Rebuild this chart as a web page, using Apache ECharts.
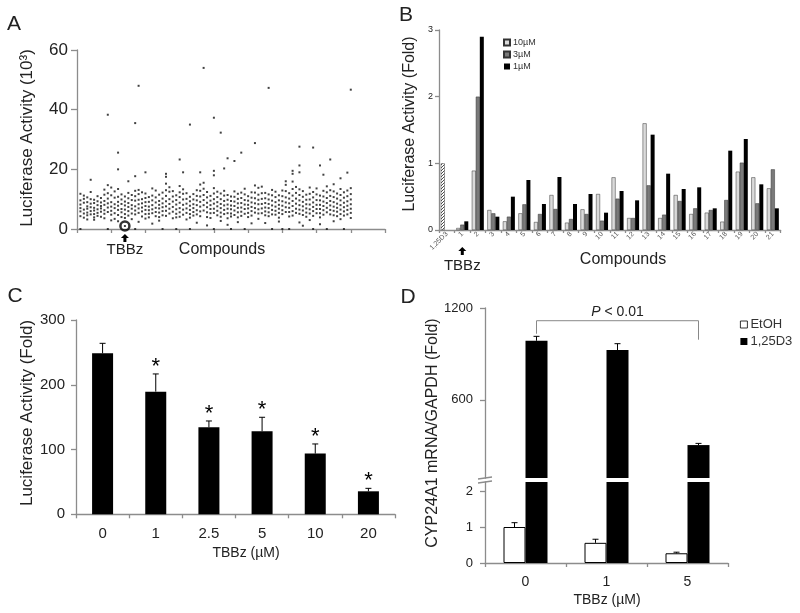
<!DOCTYPE html>
<html>
<head>
<meta charset="utf-8">
<script src="https://cdn.jsdelivr.net/npm/echarts@6/dist/echarts.min.js"></script>
<style>
html, body { margin: 0; padding: 0; background: #fff; }
#main { width: 800px; height: 613px; }
</style>
</head>
<body>
<div id="main"></div>
<script>
// ---- panel A: screen, readings per plate column (10^3 units)
var screenCols = [
  [11.8, 9.6, 8.2, 7.0, 5.9, 4.3, 0], [11.2, 10.1, 8.8, 6.5, 5.2, 3.8], [10.6, 9.0, 7.6, 6.8, 5.5, 4.6, 3.2],
  [12.4, 10.0, 8.5, 7.3, 6.0, 4.9], [9.8, 8.7, 7.1, 6.2, 5.0, 3.9, 3.1], [11.0, 9.3, 8.0, 6.6, 5.4, 4.4],
  [10.4, 8.9, 7.7, 6.9, 5.8, 4.1], [13.2, 11.5, 9.4, 8.1, 6.3, 5.1, 3.6], [14.7, 12.0, 10.2, 8.6, 7.2, 5.7, 0],
  [13.9, 11.3, 9.0, 7.5, 6.1, 4.8, 2.9], [12.6, 10.5, 8.3, 7.0, 5.3, 3.4], [13.4, 10.8, 9.1, 7.8, 6.4, 4.7, 2.6],
  [11.6, 9.9, 8.4, 6.7, 5.6, 4.0], [10.9, 9.2, 7.9, 6.5, 5.0, 3.7, 1.0], [12.1, 10.3, 8.7, 7.4, 6.0, 4.5],
  [11.4, 9.7, 8.0, 6.8, 5.2, 3.3], [12.8, 11.0, 9.5, 7.6, 6.2, 4.9, 0], [13.1, 11.7, 9.8, 8.3, 6.9, 5.4, 2.4],
  [12.3, 10.0, 8.6, 7.2, 5.9, 4.2], [11.9, 10.4, 9.0, 7.7, 6.4, 5.0, 3.5], [10.7, 9.1, 7.5, 6.3, 5.1, 3.9],
  [13.6, 11.2, 9.6, 8.0, 6.6, 5.3, 1.8], [12.9, 10.6, 8.9, 7.1, 5.7, 4.3], [11.5, 9.4, 8.1, 6.9, 5.5, 4.0, 2.8],
  [12.2, 10.2, 8.6, 7.3, 6.0, 4.6, 0], [15.2, 13.0, 11.1, 9.3, 7.6, 6.1, 4.4], [14.0, 12.5, 10.0, 8.4, 6.8, 5.2],
  [12.7, 10.9, 9.2, 7.4, 5.8, 3.6], [11.3, 9.7, 8.2, 6.6, 5.1, 3.9, 0], [14.4, 12.3, 10.7, 8.8, 7.0, 5.6, 4.1],
  [13.3, 11.8, 9.9, 8.1, 6.5, 4.8], [12.0, 10.1, 8.5, 6.9, 5.4, 3.2], [10.8, 9.3, 7.8, 6.4, 5.0, 3.8, 0],
  [11.7, 9.9, 8.3, 7.0, 5.7, 4.5], [13.0, 11.1, 9.6, 8.0, 6.3, 4.9, 2.1], [14.9, 12.8, 10.9, 9.1, 7.5, 5.9, 4.3],
  [15.5, 13.5, 11.4, 9.7, 8.0, 6.2], [12.4, 10.6, 8.8, 7.3, 5.6, 4.0, 1.2], [11.1, 9.5, 8.0, 6.7, 5.3, 3.7],
  [13.7, 11.9, 10.0, 8.5, 6.8, 5.4, 0], [12.5, 10.7, 9.0, 7.6, 6.1, 4.6], [11.9, 10.0, 8.4, 7.0, 5.5, 4.1, 2.7],
  [12.8, 11.2, 9.4, 7.9, 6.4, 5.0], [11.4, 9.8, 8.2, 6.8, 5.3, 3.6, 1.4], [10.9, 9.4, 7.9, 6.6, 5.2, 4.2, 0],
  [12.6, 10.8, 9.2, 7.7, 6.2, 4.7], [11.8, 10.1, 8.6, 7.1, 5.6, 3.9, 2.3], [12.2, 10.4, 8.7, 7.2, 5.8, 4.4],
  [13.5, 11.6, 9.7, 8.2, 6.7, 5.1, 0], [11.0, 9.5, 8.1, 6.9, 5.4, 4.0], [12.3, 10.5, 8.9, 7.4, 6.0, 4.5, 1.9],
  [14.6, 12.2, 10.3, 8.6, 7.0, 5.5], [13.8, 11.5, 9.8, 8.3, 6.6, 5.2, 3.4], [14.2, 12.0, 10.1, 8.4, 6.9, 5.3],
  [12.1, 10.3, 8.7, 7.2, 5.9, 4.6, 2.0], [11.6, 9.9, 8.4, 7.0, 5.6, 4.3], [13.1, 11.3, 9.5, 7.9, 6.4, 4.9, 0],
  [12.5, 10.7, 9.0, 7.5, 6.1, 4.8], [11.3, 9.6, 8.1, 6.8, 5.4, 3.8, 2.5], [12.9, 11.0, 9.3, 7.8, 6.3, 5.0, 0],
  [14.8, 12.7, 10.6, 8.9, 7.3, 5.7], [12.0, 10.2, 8.6, 7.1, 5.7, 4.2, 0], [15.9, 13.4, 11.2, 9.4, 7.7, 6.0, 4.5],
  [14.1, 12.1, 10.2, 8.5, 6.8, 5.4], [13.3, 11.4, 9.6, 8.0, 6.5, 5.1, 2.2], [12.7, 10.8, 9.1, 7.6, 6.2, 4.7, 1.1],
  [11.5, 9.8, 8.3, 6.9, 5.5, 4.1], [13.9, 11.8, 9.9, 8.2, 6.6, 5.2, 3.0], [12.4, 10.6, 8.9, 7.4, 6.0, 4.4, 0],
  [13.6, 11.6, 9.7, 8.1, 6.7, 5.3], [11.2, 9.6, 8.1, 6.7, 5.3, 3.9, 1.6], [12.8, 10.9, 9.2, 7.7, 6.3, 4.8],
  [14.3, 12.3, 10.4, 8.7, 7.1, 5.6, 0], [13.0, 11.1, 9.4, 7.9, 6.4, 4.9], [12.6, 10.7, 9.0, 7.5, 6.1, 4.6, 2.6],
  [11.9, 10.2, 8.5, 7.1, 5.8, 4.3], [13.4, 11.4, 9.6, 8.0, 6.5, 5.0, 3.3], [12.3, 10.5, 8.8, 7.3, 5.9, 4.5, 0],
  [12.9, 11.0, 9.3, 7.8, 6.4, 4.9], [13.7, 11.7, 9.9, 8.3, 6.8, 5.4, 3.7]
];
// [column, reading] for the higher hits
var screenHigh = [
  [4, 16.5], [9, 38.3], [12, 25.6], [12, 20], [18, 48], [17, 35.5], [17, 17.7], [15, 16], [20, 19],
  [37, 54], [40, 37.3], [40, 19.5], [40, 18], [42, 32.3], [33, 35], [30, 23.3], [31, 19], [26, 18.5],
  [26, 17.5], [36, 19], [43, 20.3], [44, 23.7], [46, 22.8], [48, 25.6], [52, 28.8], [56, 47.3], [65, 27.6],
  [65, 21.3], [65, 19], [69, 27.3], [71, 21.3], [74, 23.3], [80, 46.7], [79, 18.9], [63, 19.5], [63, 18.5],
  [61, 16], [72, 18.2], [75, 15], [77, 17]
];
var tbbzPoint = [14, 1.0];

// ---- panel B
var compounds = ['1,25D3', '1', '2', '3', '4', '5', '6', '7', '8', '9', '10', '11', '12', '13', '14',
  '15', '16', '17', '18', '19', '20', '21'];
var ctrlFold = 1.0;
var b10 = [0.03, 0.89, 0.30, 0.13, 0.25, 0.12, 0.525, 0.11, 0.31, 0.54, 0.79, 0.18, 1.60, 0.18, 0.525, 0.24, 0.26, 0.125, 0.875, 0.79, 0.625];
var b3 = [0.08, 2.00, 0.25, 0.20, 0.385, 0.24, 0.315, 0.165, 0.24, 0.14, 0.47, 0.18, 0.67, 0.23, 0.435, 0.325, 0.30, 0.45, 1.01, 0.40, 0.91];
var b1 = [0.13, 2.90, 0.20, 0.50, 0.75, 0.39, 0.795, 0.39, 0.54, 0.26, 0.585, 0.445, 1.43, 0.845, 0.615, 0.64, 0.325, 1.19, 1.365, 0.685, 0.325];

// ---- panel C
var doses = ['0', '1', '2.5', '5', '10', '20'];
var cMean = [248.6, 189.4, 134.3, 128.2, 93.7, 35.5];
var cErr = [15.4, 27.3, 9.8, 21.6, 14.9, 4.6];
var cStar = [0, 1, 1, 1, 1, 1];

// ---- panel D
var dDoses = ['0', '1', '5'];
var etoh = [1.0, 0.56, 0.27];
var etohErr = [0.12, 0.10, 0.03];
var d3 = [986, 925, 305];
var d3Err = [29, 42, 11];
var bracketY = [1032, 1117, 993]; // left end, top, right end

var FONT = 'Liberation Sans, Arial, sans-serif';
var AX = '#8c8c8c';
var TXT = '#222';

var chart = echarts.init(document.getElementById('main'));

// hatch for the 1,25D3 control bar
var hatch = document.createElement('canvas');
hatch.width = 3; hatch.height = 3;
var hc = hatch.getContext('2d');
hc.fillStyle = '#fff'; hc.fillRect(0, 0, 3, 3);
hc.strokeStyle = '#222'; hc.lineWidth = 0.8;
hc.beginPath();
hc.moveTo(-1, 4); hc.lineTo(4, -1);
hc.moveTo(-1, 1); hc.lineTo(1, -1);
hc.moveTo(2, 4); hc.lineTo(4, 2);
hc.stroke();

var screenData = [];
screenCols.forEach(function (col, i) {
  col.forEach(function (v) { screenData.push([i + 1, v]); });
});
screenData = screenData.concat(screenHigh);

function plain(v) { return String(v); }

function valAxis(grid, min, max, interval, fs, margin, tick) {
  return {
    type: 'value', gridIndex: grid, min: min, max: max, interval: interval,
    splitLine: { show: false },
    axisLine: { show: true, lineStyle: { color: AX, width: 1.3 } },
    axisTick: { show: true, length: tick, lineStyle: { color: AX, width: 1.3 } },
    axisLabel: { fontFamily: FONT, fontSize: fs, color: TXT, margin: margin, formatter: plain }
  };
}
function catAxis(grid, data, fs, margin) {
  return {
    type: 'category', gridIndex: grid, data: data,
    axisLine: { show: true, lineStyle: { color: AX, width: 1.3 } },
    axisTick: { show: true, length: 4, lineStyle: { color: AX, width: 1.3 } },
    axisLabel: { fontFamily: FONT, fontSize: fs, color: TXT, margin: margin, interval: 0 }
  };
}

// error bars drawn over bars
function errRender(means, errs, offset, stars) {
  return function (params, api) {
    var i = api.value(0);
    var top = api.coord([i, means[i] + errs[i]]);
    var base = api.coord([i, means[i]]);
    var x = top[0] + offset;
    var kids = [
      { type: 'line', shape: { x1: x, y1: base[1], x2: x, y2: top[1] }, style: { stroke: '#000', lineWidth: 1 } },
      { type: 'line', shape: { x1: x - 3, y1: top[1], x2: x + 3, y2: top[1] }, style: { stroke: '#000', lineWidth: 1 } }
    ];
    if (stars && stars[i]) {
      kids.push({ type: 'text', x: x, y: top[1] - 7,
        style: { text: '*', font: '22px ' + FONT, fill: '#000', align: 'center', verticalAlign: 'middle' } });
    }
    return { type: 'group', children: kids };
  };
}
function idxData(arr) { return arr.map(function (v, i) { return [i, v]; }); }

var option = {
  animation: false,
  backgroundColor: '#fff',
  textStyle: { fontFamily: FONT },
  grid: [
    { left: 77, top: 50, width: 308, height: 179 },
    { left: 439, top: 30, width: 341.6, height: 200 },
    { left: 76, top: 320, width: 319, height: 194.3 },
    { left: 485, top: 308, width: 243, height: 170 },
    { left: 485, top: 482, width: 243, height: 81 }
  ],
  legend: [
    { data: ['10µM', '3µM', '1µM'], orient: 'vertical', left: 503, top: 38, padding: 0, icon: 'rect',
      itemWidth: 6, itemHeight: 6, itemGap: 3, selectedMode: false,
      textStyle: { fontFamily: FONT, fontSize: 9, color: '#333', padding: [0, 0, 0, -2] } },
    { data: ['EtOH', '1,25D3'], orient: 'vertical', left: 740, top: 318, padding: 0, icon: 'rect',
      itemWidth: 7, itemHeight: 7, itemGap: 4, selectedMode: false,
      itemStyle: { borderWidth: 0.8 },
      textStyle: { fontFamily: FONT, fontSize: 13, color: '#333', padding: [0, 0, 0, -2] } }
  ],
  xAxis: [
    (function () { var a = valAxis(0, 0, 90, 10, 10, 6, 4); a.axisLabel.show = false; return a; })(),
    (function () {
      var a = catAxis(1, compounds, 7, 3);
      a.axisLabel.rotate = 45; a.axisLabel.color = '#555'; a.axisTick.length = 3;
      return a;
    })(),
    catAxis(2, doses, 15, 12),
    { type: 'category', gridIndex: 3, data: dDoses, show: false },
    catAxis(4, dDoses, 14, 12)
  ],
  yAxis: [
    valAxis(0, 0, 60, 20, 17, 9, 6),
    valAxis(1, 0, 3, 1, 9, 6, 4),
    valAxis(2, 0, 300, 100, 15, 11, 5),
    (function () {
      var a = valAxis(3, 90, 1200, null, 13, 12, 5);
      delete a.interval;
      a.axisLabel.customValues = [600, 1200];
      a.axisTick.customValues = [600, 1200];
      return a;
    })(),
    (function () {
      var a = valAxis(4, 0, 2.25, null, 13, 12, 5);
      delete a.interval;
      a.axisLabel.customValues = [0, 1, 2];
      a.axisTick.customValues = [0, 1, 2];
      return a;
    })()
  ],
  series: [
    // A
    { type: 'scatter', xAxisIndex: 0, yAxisIndex: 0, data: screenData, symbol: 'rect', symbolSize: 2,
      itemStyle: { color: '#111' }, silent: true },
    { type: 'scatter', xAxisIndex: 0, yAxisIndex: 0, data: [tbbzPoint], symbol: 'circle', symbolSize: 9, z: 5,
      itemStyle: { color: 'rgba(0,0,0,0)', borderColor: '#000', borderWidth: 2.5 }, silent: true },
    // B
    { name: '10µM', type: 'bar', xAxisIndex: 1, yAxisIndex: 1, barWidth: 4, barGap: '0%',
      itemStyle: { color: '#dadada', borderColor: '#333', borderWidth: 0.5 },
      data: [{ value: ctrlFold, itemStyle: { color: { image: hatch, repeat: 'repeat' }, borderColor: '#444', borderWidth: 0.5 } }].concat(b10) },
    { name: '3µM', type: 'bar', xAxisIndex: 1, yAxisIndex: 1, barWidth: 4, barGap: '0%',
      itemStyle: { color: '#7a7a7a', borderColor: '#333', borderWidth: 0.5 }, data: ['-'].concat(b3) },
    { name: '1µM', type: 'bar', xAxisIndex: 1, yAxisIndex: 1, barWidth: 4, barGap: '0%',
      itemStyle: { color: '#000' }, data: ['-'].concat(b1) },
    // C
    { type: 'bar', xAxisIndex: 2, yAxisIndex: 2, barWidth: 21, itemStyle: { color: '#000' }, data: cMean },
    { type: 'custom', xAxisIndex: 2, yAxisIndex: 2, data: idxData(cMean), z: 5,
      renderItem: errRender(cMean, cErr, 0, cStar) },
    // D upper
    { name: 'EtOH', type: 'bar', xAxisIndex: 3, yAxisIndex: 3, barWidth: 22, barGap: '0%', clip: true,
      itemStyle: { color: '#fff', borderColor: '#000', borderWidth: 1 }, data: etoh.map(function () { return '-'; }) },
    { name: '1,25D3', type: 'bar', xAxisIndex: 3, yAxisIndex: 3, barWidth: 22, barGap: '0%', clip: true,
      itemStyle: { color: '#000' }, data: d3 },
    { type: 'custom', xAxisIndex: 3, yAxisIndex: 3, data: idxData(d3), z: 5,
      renderItem: errRender(d3, d3Err, 11) },
    { type: 'custom', xAxisIndex: 3, yAxisIndex: 3, data: [[0, bracketY[1]]], z: 5,
      renderItem: function (params, api) {
        var l = api.coord([0, bracketY[0]]), lt = api.coord([0, bracketY[1]]);
        var rt = api.coord([2, bracketY[1]]), r = api.coord([2, bracketY[2]]);
        var o = 11;
        return { type: 'group', children: [
          { type: 'polyline', shape: { points: [[l[0] + o, l[1]], [lt[0] + o, lt[1]], [rt[0] + o, rt[1]], [r[0] + o, r[1]]] },
            style: { stroke: '#888', lineWidth: 1, fill: null } },
          { type: 'text', x: (lt[0] + rt[0]) / 2 + o, y: lt[1] - 2,
            style: { text: '{i|P} < 0.01', font: '14px ' + FONT, fill: TXT, align: 'center', verticalAlign: 'bottom',
              rich: { i: { fontStyle: 'italic', fontSize: 14, fontFamily: FONT } } } }
        ] };
      } },
    // D lower
    { name: 'EtOH', type: 'bar', xAxisIndex: 4, yAxisIndex: 4, barWidth: 22, barGap: '0%', clip: true,
      itemStyle: { color: '#fff', borderColor: '#000', borderWidth: 1 }, data: etoh },
    { name: '1,25D3', type: 'bar', xAxisIndex: 4, yAxisIndex: 4, barWidth: 22, barGap: '0%', clip: true,
      itemStyle: { color: '#000' }, data: d3 },
    { type: 'custom', xAxisIndex: 4, yAxisIndex: 4, data: idxData(etoh), z: 5,
      renderItem: errRender(etoh, etohErr, -11) }
  ]
};
chart.setOption(option);

// annotations placed from the chart's own scales
var tA = chart.convertToPixel({ gridIndex: 0 }, tbbzPoint);
var axA = chart.convertToPixel({ gridIndex: 0 }, [0, 0]);
var tB = chart.convertToPixel({ gridIndex: 1 }, [1, 0]);
var dUp = chart.convertToPixel({ gridIndex: 3 }, [0, 90]);
var dLo = chart.convertToPixel({ gridIndex: 4 }, [0, 2.25]);
var dAxisX = 485;

function upArrow(x, y) {
  return { type: 'polygon', shape: { points: [[x, y], [x + 4, y + 4], [x + 1.5, y + 4], [x + 1.5, y + 8],
    [x - 1.5, y + 8], [x - 1.5, y + 4], [x - 4, y + 4]] }, style: { fill: '#000' } };
}
function txt(x, y, s, size, rot) {
  return { type: 'text', x: x, y: y, rotation: rot ? Math.PI / 2 : 0,
    style: { text: s, font: size + 'px ' + FONT, fill: TXT, align: 'center', verticalAlign: 'middle' } };
}

chart.setOption({
  graphic: [
    txt(14, 24, 'A', 21), txt(406, 15, 'B', 21), txt(15, 296, 'C', 21), txt(408, 297, 'D', 21),
    txt(27, 138, 'Luciferase Activity (10³)', 17, true),
    txt(410, 124, 'Luciferase Activity (Fold)', 16, true),
    txt(27, 413, 'Luciferase Activity (Fold)', 17, true),
    txt(433, 433, 'CYP24A1 mRNA/GAPDH (Fold)', 16, true),
    txt(222, 250, 'Compounds', 16),
    txt(623, 260, 'Compounds', 16),
    txt(246, 553, 'TBBz (µM)', 14),
    txt(607, 600, 'TBBz (µM)', 14),
    upArrow(tA[0], axA[1] + 5),
    txt(tA[0], 250, 'TBBz', 15),
    upArrow(tB[0], tB[1] + 17),
    txt(tB[0], 266, 'TBBz', 15),
    { type: 'line', shape: { x1: dAxisX - 7, y1: dUp[1] + 1, x2: dAxisX + 7, y2: dUp[1] - 1 }, style: { stroke: AX, lineWidth: 1.3 } },
    { type: 'line', shape: { x1: dAxisX - 7, y1: dLo[1] + 1, x2: dAxisX + 7, y2: dLo[1] - 1 }, style: { stroke: AX, lineWidth: 1.3 } }
  ]
});
</script>
</body>
</html>
